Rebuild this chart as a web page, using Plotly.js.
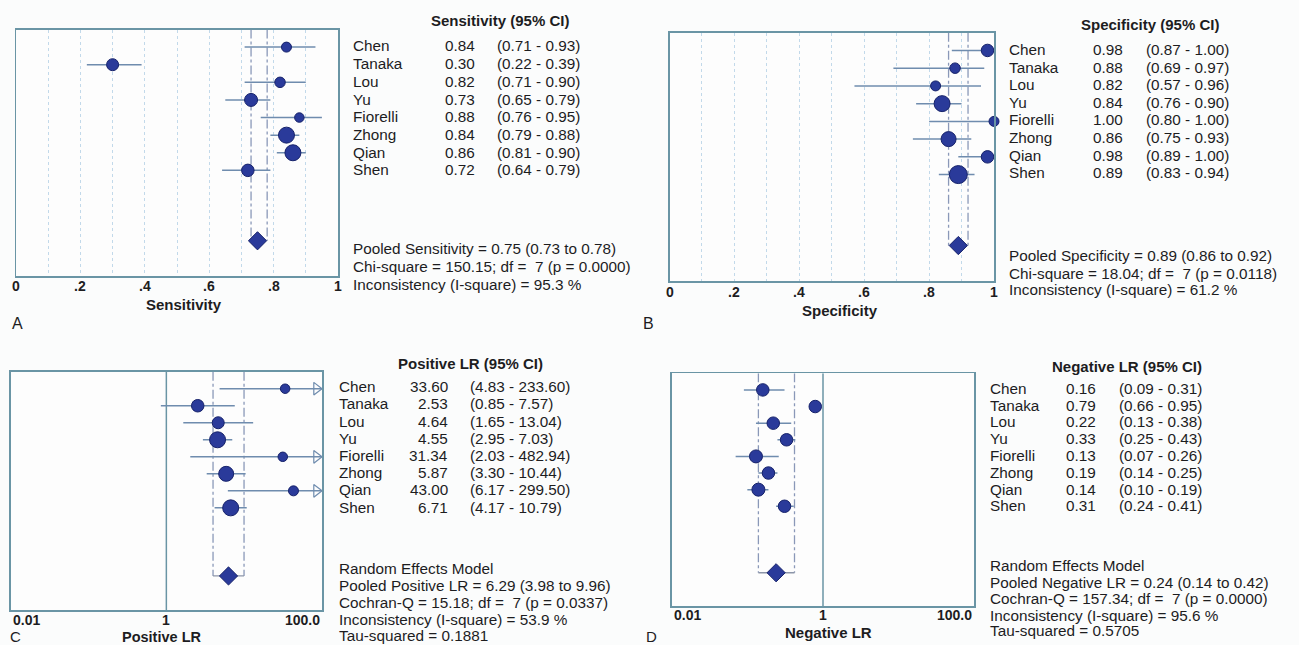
<!DOCTYPE html>
<html>
<head>
<meta charset="utf-8">
<script src="https://cdn.plot.ly/plotly-3.0.1.min.js"></script>
<style>html,body{margin:0;padding:0;background:#fbfcfc;}#chart{width:1299px;height:645px;}</style>
</head>
<body>
<div id="chart"></div>
<script>
// ---------------- DATA ----------------
const studies = ['Chen','Tanaka','Lou','Yu','Fiorelli','Zhong','Qian','Shen'];

const sensEst = [0.84,0.30,0.82,0.73,0.88,0.84,0.86,0.72];
const sensLo  = [0.71,0.22,0.71,0.65,0.76,0.79,0.81,0.64];
const sensHi  = [0.93,0.39,0.90,0.79,0.95,0.88,0.90,0.79];
const sensWeight = [10,12,10.5,13,9.5,16,16,12.5];
const sensPooled = [0.75,0.73,0.78];

const specEst = [0.98,0.88,0.82,0.84,1.00,0.86,0.98,0.89];
const specLo  = [0.87,0.69,0.57,0.76,0.80,0.75,0.89,0.83];
const specHi  = [1.00,0.97,0.96,0.90,1.00,0.93,1.00,0.94];
const specWeight = [12.5,10.5,10,16,10,15,12.5,18];
const specPooled = [0.89,0.86,0.92];

const plrEst = [33.60,2.53,4.64,4.55,31.34,5.87,43.00,6.71];
const plrLo  = [4.83,0.85,1.65,2.95,2.03,3.30,6.17,4.17];
const plrHi  = [233.60,7.57,13.04,7.03,482.94,10.44,299.50,10.79];
const plrWeight = [9.5,12.5,12,16,9.5,15,10,16];
const plrPooled = [6.29,3.98,9.96];

const nlrEst = [0.16,0.79,0.22,0.33,0.13,0.19,0.14,0.31];
const nlrLo  = [0.09,0.66,0.13,0.25,0.07,0.14,0.10,0.24];
const nlrHi  = [0.31,0.95,0.38,0.43,0.26,0.25,0.19,0.41];
const nlrWeight = [12.5,12.5,12.5,12.5,13,12.5,13,12.5];
const nlrPooled = [0.24,0.14,0.42];

const linTickVals = [0,0.2,0.4,0.6,0.8,1];
const linTickText = ['0','.2','.4','.6','.8','1'];
const logTickText = ['0.01','1','100.0'];

const footA = ['Pooled Sensitivity = 0.75 (0.73 to 0.78)','Chi-square = 150.15; df = \u00a07 (p = 0.0000)','Inconsistency (I-square) = 95.3 %'];
const footB = ['Pooled Specificity = 0.89 (0.86 to 0.92)','Chi-square = 18.04; df = \u00a07 (p = 0.0118)','Inconsistency (I-square) = 61.2 %'];
const footC = ['Random Effects Model','Pooled Positive LR = 6.29 (3.98 to 9.96)','Cochran-Q = 15.18; df = \u00a07 (p = 0.0337)','Inconsistency (I-square) = 53.9 %','Tau-squared = 0.1881'];
const footD = ['Random Effects Model','Pooled Negative LR = 0.24 (0.14 to 0.42)','Cochran-Q = 157.34; df = \u00a07 (p = 0.0000)','Inconsistency (I-square) = 95.6 %','Tau-squared = 0.5705'];

// ---------------- STYLE / LAYOUT ----------------
const W = 1299, H = 645;
const FONT = 'Liberation Sans, Arial, sans-serif';
const TXT = '#1d1d1f';
const FRAME = '#6a95a5';
const CI = '#6f8cae';
const DASH = '#8a98b8';
const DOT = '#2a3a9a';
const DOTLINE = '#16226a';
const FS = 15.3;

const rows = studies.map((s, i) => i + 1);
const POOLROW = 12;

const traces = [];
const annotations = [];
const layout = {
  width: W, height: H,
  margin: {l:0, r:0, t:0, b:0},
  paper_bgcolor: '#fbfcfc',
  plot_bgcolor: '#fdfdfd',
  showlegend: false,
  annotations: annotations
};

function px(x){ return x / W; }
function py(y){ return 1 - y / H; }
function txt(x, y, text, anchor, size, bold){
  annotations.push({xref:'paper', yref:'paper', x:px(x), y:py(y), text: bold ? '<b>'+text+'</b>' : text,
    showarrow:false, xanchor:anchor, yanchor:'middle', font:{family:FONT, size:size, color:TXT}});
}

function panel(n, cfg){
  const xs = n === 1 ? '' : String(n);
  const xname = 'x' + xs, yname = 'y' + xs;
  const isLog = cfg.log;
  layout['xaxis' + xs] = {
    domain: [px(cfg.left), px(cfg.right)], anchor: yname,
    type: isLog ? 'log' : 'linear', range: isLog ? [-2, 2] : [0, 1],
    showline: true, mirror: true, linecolor: FRAME, linewidth: 1.5,
    showticklabels: false, ticks: '', zeroline: false,
    showgrid: !isLog, tickvals: isLog ? [] : [0.1,0.2,0.3,0.4,0.5,0.6,0.7,0.8,0.9],
    gridcolor: '#c2d9ea', gridwidth: 1, griddash: 'dot', fixedrange: true
  };
  layout['yaxis' + xs] = {
    domain: [py(cfg.bottom), py(cfg.top)], anchor: xname,
    range: [14, 0], showline: true, mirror: true, linecolor: FRAME, linewidth: 1.5,
    showticklabels: false, ticks: '', zeroline: false, showgrid: false, fixedrange: true
  };
  const xmax = isLog ? 100 : 1;

  if (isLog) {
    traces.push({type:'scatter', mode:'lines', x:[1,1], y:[0,14], xaxis:xname, yaxis:yname,
      line:{color:FRAME, width:1.5}, hoverinfo:'skip'});
  }
  const p = cfg.pooled;
  // pooled CI dashed guides
  traces.push({type:'scatter', mode:'lines', x:[p[1],p[1],null,p[2],p[2]], y:[0,POOLROW,null,0,POOLROW],
    xaxis:xname, yaxis:yname, line:{color:DASH, width:1.3, dash:'dashdot'}, hoverinfo:'skip'});
  if (cfg.bracket) {
    traces.push({type:'scatter', mode:'lines', x:[p[1],p[2]], y:[POOLROW,POOLROW],
      xaxis:xname, yaxis:yname, line:{color:'#8c95a8', width:1.3}, hoverinfo:'skip'});
  }
  // study estimates with CIs
  const hiShown = cfg.hi.map(v => Math.min(v, xmax));
  traces.push({type:'scatter', mode:'markers', x:cfg.est, y:rows, xaxis:xname, yaxis:yname,
    cliponaxis:false,
    marker:{size:cfg.weight, color:DOT, opacity:1, line:{color:DOTLINE, width:1}},
    error_x:{type:'data', symmetric:false, array:hiShown.map((h,i)=>h-cfg.est[i]),
      arrayminus:cfg.est.map((e,i)=>e-cfg.lo[i]), width:0, thickness:1.5, color:CI}});
  // arrows for CIs beyond the axis
  if (isLog) {
    const ax = [], ay = [];
    cfg.hi.forEach((v,i)=>{ if (v > xmax) { ax.push(Math.pow(10, 2 - 0.07)); ay.push(rows[i]); } });
    traces.push({type:'scatter', mode:'markers', x:ax, y:ay, xaxis:xname, yaxis:yname, cliponaxis:false,
      marker:{symbol:'triangle-right-open', size:11, color:CI, opacity:1, line:{color:CI, width:1.2}}});
  }
  // pooled diamond
  traces.push({type:'scatter', mode:'markers', x:[p[0]], y:[POOLROW], xaxis:xname, yaxis:yname,
    marker:{symbol:'diamond', size:14, color:DOT, opacity:1, line:{color:DOTLINE, width:1}}});

  // tick labels
  if (isLog) {
    const dom = xname + ' domain';
    [[0,'left'],[0.5,'center'],[1,'right']].forEach((t,k)=>{
      annotations.push({xref:dom, yref:'paper', x:t[0], y:py(cfg.tickY), text:'<b>'+logTickText[k]+'</b>',
        showarrow:false, xanchor:t[1], yanchor:'middle', font:{family:FONT, size:14, color:TXT}});
    });
  } else {
    linTickVals.forEach((v,k)=>{
      annotations.push({xref:xname, yref:'paper', x:v, y:py(cfg.tickY), text:'<b>'+linTickText[k]+'</b>',
        showarrow:false, xanchor:'center', yanchor:'middle', font:{family:FONT, size:14, color:TXT}});
    });
  }
  // axis title
  txt(cfg.titleX, cfg.titleY, cfg.title, 'center', cfg.titleSize || 15, true);
  // panel letter
  txt(cfg.letterX, cfg.letterY, cfg.letter, 'center', cfg.letterSize || 16, false);
  // table header
  txt(cfg.headX, cfg.headY, cfg.head, 'center', 15, true);
  // table rows
  studies.forEach((s,i)=>{
    const y = cfg.rowY0 + cfg.rowDY * i;
    txt(cfg.nameX, y, s, 'left', FS, false);
    txt(cfg.valX, y, cfg.est[i].toFixed(2), 'right', FS, false);
    txt(cfg.ciX, y, '(' + cfg.lo[i].toFixed(2) + ' - ' + cfg.hi[i].toFixed(2) + ')', 'left', FS, false);
  });
  cfg.foot.forEach((f,k)=>{ txt(cfg.nameX, cfg.footY[k], f, 'left', FS, false); });
}

panel(1, {log:false, left:16, right:338, top:29.5, bottom:276,
  est:sensEst, lo:sensLo, hi:sensHi, weight:sensWeight, pooled:sensPooled, bracket:false,
  tickY:286, title:'Sensitivity', titleX:184, titleY:304, letter:'A', letterX:17, letterY:323,
  head:'Sensitivity (95% CI)', headX:500, headY:20, rowY0:46, rowDY:17.7,
  nameX:351, valX:477, ciX:495, foot:footA, footY:[248.3,266.7,284.3]});

panel(2, {log:false, left:669.5, right:994, top:32.7, bottom:281,
  est:specEst, lo:specLo, hi:specHi, weight:specWeight, pooled:specPooled, bracket:false,
  tickY:291.5, title:'Specificity', titleX:840, titleY:310, letter:'B', letterX:648, letterY:323,
  head:'Specificity (95% CI)', headX:1150, headY:25, rowY0:49.5, rowDY:17.6,
  nameX:1007, valX:1125, ciX:1144, foot:footB, footY:[255,273.3,289.3]});

panel(3, {log:true, left:10.7, right:322, top:371.7, bottom:610,
  est:plrEst, lo:plrLo, hi:plrHi, weight:plrWeight, pooled:plrPooled, bracket:true,
  tickY:619.5, title:'Positive LR', titleX:161, titleY:636.5, titleSize:14.5,
  letter:'C', letterX:15, letterY:636.5, letterSize:15,
  head:'Positive LR (95% CI)', headX:470, headY:363.3, rowY0:386.7, rowDY:17.2,
  nameX:336.5, valX:450.5, ciX:468.3, foot:footC, footY:[568.3,585.7,602.7,619,635]});

panel(4, {log:true, left:671.7, right:974.3, top:373.3, bottom:606,
  est:nlrEst, lo:nlrLo, hi:nlrHi, weight:nlrWeight, pooled:nlrPooled, bracket:true,
  tickY:615, title:'Negative LR', titleX:828, titleY:632.5, letter:'D', letterX:651, letterY:636.5, letterSize:15,
  head:'Negative LR (95% CI)', headX:1126.7, headY:366.7, rowY0:388.3, rowDY:16.8,
  nameX:988, valX:1098, ciX:1116.7, foot:footD, footY:[565,582,598.7,615,630.7]});

Plotly.newPlot('chart', traces, layout, {displayModeBar:false, staticPlot:true});
</script>
</body>
</html>
